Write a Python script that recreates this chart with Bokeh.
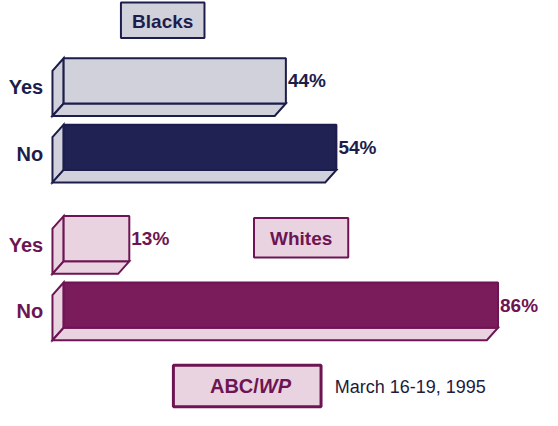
from bokeh.plotting import figure
from bokeh.models import Range1d
from bokeh.core.properties import value
from bokeh.embed import file_html
from bokeh.resources import INLINE

# ---- data ----
categories = ["Yes", "No"]
groups = ["Blacks", "Whites"]
blacks_pct = [44, 54]
whites_pct = [13, 86]
source_main = "ABC/"
source_ital = "WP"
date_label = "March 16-19, 1995"

# ---- layout (geometry in reference-image pixels, scaled to the figure) ----
W, H = 542, 410
REF_W, REF_H = 558, 426
X0 = 65                 # reference x of 0 %
PX_PER_PCT = 5.2
FACE_H = 47             # front face height
DX, DY = 11.5, 13       # 3-D extrusion (left, down)
FONT = "Liberation Sans"

def px(x_img):
    """reference pixel x -> data x (percent units)"""
    return (x_img - X0) / PX_PER_PCT

dpx = DX / PX_PER_PCT

styles = {
    "Blacks": dict(line="#1d1d4b", dark="#202253", light="#d0d1da",
                   tops=[60, 129], box=(124, 210, 2, 39)),
    "Whites": dict(line="#6d1552", dark="#7a1b5c", light="#ead3e1",
                   tops=[224, 293], box=(261, 358, 226, 267)),
}
values = {"Blacks": blacks_pct, "Whites": whites_pct}

p = figure(width=W, height=H, output_backend="svg", toolbar_location=None,
           x_range=Range1d(px(0), px(REF_W)), y_range=Range1d(REF_H, 0),
           min_border=0, outline_line_color=None)
p.axis.visible = False
p.grid.visible = False
p.background_fill_color = "white"
p.border_fill_color = "white"

for g in groups:
    st = styles[g]
    for cat, v, t in zip(categories, values[g], st["tops"]):
        b = t + FACE_H
        front_fill = st["light"] if cat == "Yes" else st["dark"]
        # left face and bottom face
        p.patches(
            xs=[[0, -dpx, -dpx, 0], [0, v, v - dpx, -dpx]],
            ys=[[t, t + DY, b + DY, b], [b, b, b + DY, b + DY]],
            fill_color=st["light"], line_color=st["line"], line_width=2,
            line_join="miter")
        # front face
        p.quad(left=[0], right=[v], top=[t], bottom=[b],
               fill_color=front_fill, line_color=st["line"], line_width=2)
        # category label
        p.text(x=[px(44)], y=[t + (FACE_H + DY) / 2], text=[cat],
               text_font=value(FONT), text_font_style="bold",
               text_font_size="20px", text_color=st["line"],
               text_align="right", text_baseline="middle")
        # percentage label
        p.text(x=[v], y=[t + FACE_H / 2], text=[f"{v}%"], x_offset=2,
               text_font=value(FONT), text_font_style="bold",
               text_font_size="19px", text_color=st["line"],
               text_align="left", text_baseline="middle")
    # group title box
    l, r, bt, bb = st["box"]
    p.quad(left=[px(l)], right=[px(r)], top=[bt], bottom=[bb],
           fill_color=st["light"], line_color=st["line"], line_width=2)
    p.text(x=[px((l + r) / 2)], y=[(bt + bb) / 2 + 1], text=[g],
           text_font=value(FONT), text_font_style="bold",
           text_font_size="19px", text_color=st["line"],
           text_align="center", text_baseline="middle")

# source box
wst = styles["Whites"]
p.quad(left=[px(178)], right=[px(330)], top=[379], bottom=[422],
       fill_color=wst["light"], line_color=wst["line"], line_width=3)
p.text(x=[px(266)], y=[401], text=[source_main],
       text_font=value(FONT), text_font_style="bold", text_font_size="20px",
       text_color=wst["line"], text_align="right", text_baseline="middle")
p.text(x=[px(266)], y=[401], text=[source_ital],
       text_font=value(FONT), text_font_style="bold italic",
       text_font_size="20px", text_color=wst["line"],
       text_align="left", text_baseline="middle")
p.text(x=[px(344)], y=[402], text=[date_label],
       text_font=value(FONT), text_font_size="18px", text_color="#1c1c3c",
       text_align="left", text_baseline="middle")

open("out.html", "w").write(file_html(p, INLINE))
